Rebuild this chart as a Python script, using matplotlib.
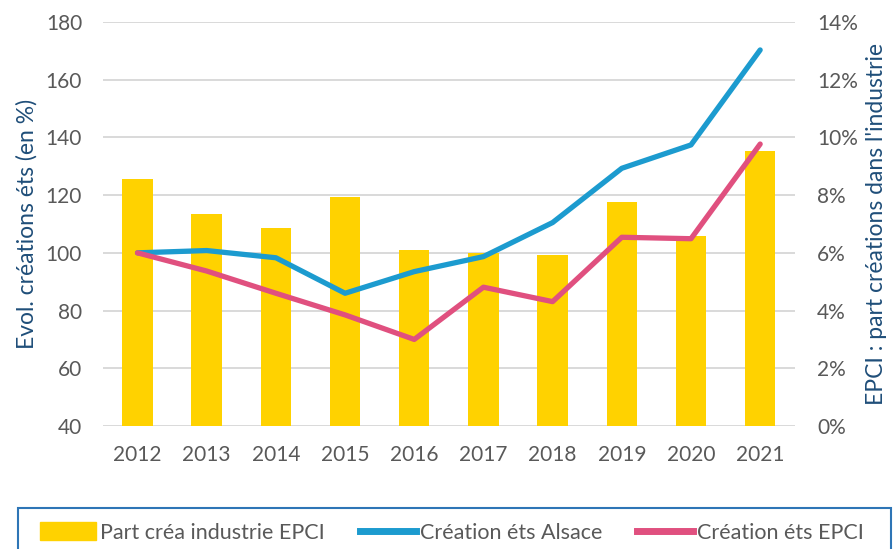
import matplotlib
matplotlib.use("Agg")
import matplotlib.pyplot as plt
from matplotlib.patches import Rectangle
from matplotlib.ticker import FuncFormatter
import numpy as np

# ── Data ───────────────────────────────────────────────────────────────────
years = ["2012", "2013", "2014", "2015", "2016", "2017", "2018", "2019", "2020", "2021"]
part_indus_epci = [8.56, 7.33, 6.86, 7.92, 6.11, 5.98, 5.93, 7.76, 6.58, 9.53]   # %
crea_alsace = [100, 100.8, 98.3, 86.0, 93.5, 98.7, 110.5, 129.3, 137.4, 170.3]
crea_epci = [100, 93.7, 86.0, 78.5, 70.0, 88.1, 83.1, 105.4, 104.9, 137.7]

# ── Style ──────────────────────────────────────────────────────────────────
plt.rcParams["font.family"] = ["Lato", "DejaVu Sans"]
GOLD = "#FFD200"
BLUE = "#1C9BCF"
PINK = "#E0507F"
TXT = "#595959"
LABEL = "#1F4E79"
GRID = "#D9D9D9"

fig = plt.figure(figsize=(8.95, 5.49), dpi=100)
ax = fig.add_axes([0.115, 0.224, 0.773, 0.736])
ax2 = ax.twinx()

x = np.arange(len(years))

# bars on the right axis, lines on the left axis (lines drawn on top)
ax2.bar(x, part_indus_epci, width=0.44, color=GOLD, zorder=1)
ax2.set_ylim(0, 14)
ax2.set_yticks(np.arange(0, 15, 2))
ax2.yaxis.set_major_formatter(FuncFormatter(lambda v, p: f"{v:.0f}%"))

ax.set_zorder(ax2.get_zorder() + 1)
ax.patch.set_visible(False)
ax.plot(x, crea_alsace, color=BLUE, lw=3.8, solid_capstyle="round", zorder=3)
ax.plot(x, crea_epci, color=PINK, lw=3.8, solid_capstyle="round", zorder=3)
ax.set_ylim(40, 180)
ax.set_yticks(np.arange(40, 181, 20))
ax.set_xlim(-0.5, len(years) - 0.5)
ax.set_xticks(x)
ax.set_xticklabels(years)

# gridlines drawn on the bar axis so they sit behind bars
for v in np.arange(0, 15, 2):
    ax2.axhline(v, color=GRID, lw=1.4, zorder=0)

for a in (ax, ax2):
    for s in a.spines.values():
        s.set_visible(False)
    a.tick_params(length=0, labelsize=15, colors=TXT)
ax.tick_params(axis="x", pad=14)
ax.tick_params(axis="y", pad=15)
ax2.tick_params(axis="y", pad=16)

ax.set_ylabel("Evol. créations éts (en %)", fontsize=16.5, color=LABEL, labelpad=6)
ax2.set_ylabel("EPCI : part créations dans l'industrie", fontsize=16.5, color=LABEL, labelpad=6)

# ── Legend ─────────────────────────────────────────────────────────────────
fig.patches.append(Rectangle((0.02, -0.05), 0.975, 0.124, transform=fig.transFigure,
                             fill=False, edgecolor="#2E75B6", lw=1.5))
handles = [
    Rectangle((0, 0), 1, 1, color=GOLD),
    plt.Line2D([], [], color=BLUE, lw=5),
    plt.Line2D([], [], color=PINK, lw=5),
]
labels = ["Part créa industrie EPCI", "Création éts Alsace", "Création éts EPCI"]
fig.legend(handles, labels, loc="center", bbox_to_anchor=(0.505, 0.03), ncol=3,
           frameon=False, fontsize=15.5, labelcolor=TXT, handlelength=2.6,
           handletextpad=0.2, columnspacing=1.6, handleheight=0.9)

fig.savefig("out.png", dpi=100)
